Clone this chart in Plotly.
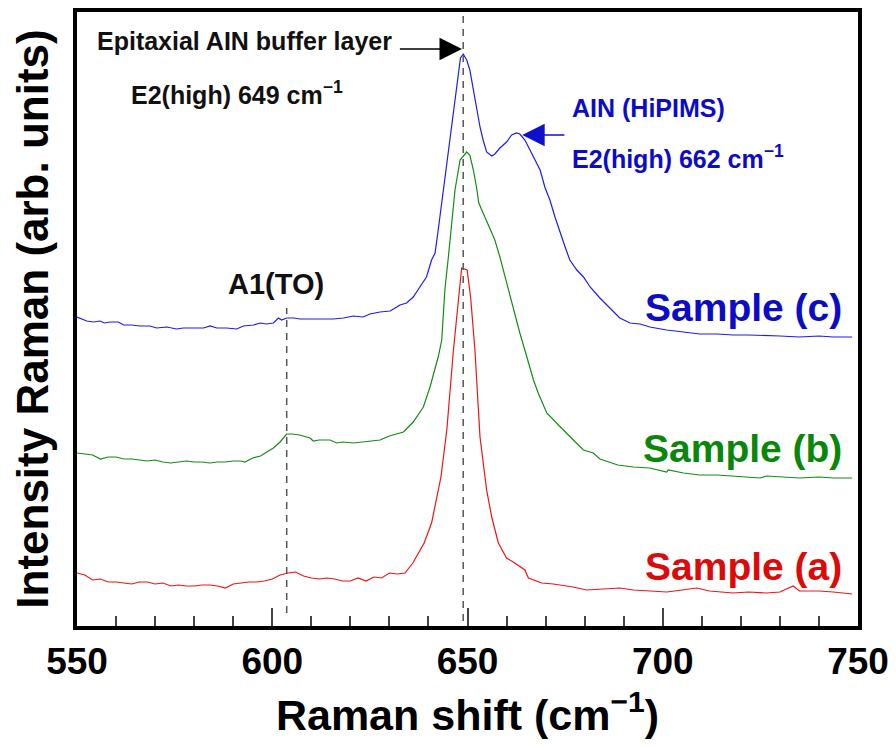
import plotly.graph_objects as go

# ---------------- data (Raman shift in cm^-1, intensity in arb. units) ----------------
shift_a = [550, 552, 554, 556, 558, 560, 562, 564, 566, 568, 570, 572, 574, 576, 578, 580, 582, 584,
           586, 588, 590, 592, 594, 596, 598, 600, 602, 604, 606, 608, 610, 612, 614, 616, 618, 620,
           622, 624, 626, 628, 630, 632, 634, 636, 637.7, 638.9, 640.8, 643.2, 644.7, 646.4, 648.5,
           649.9, 650.8, 651.9, 652.8, 653.2, 654.9, 656.2, 657.9, 660, 661.7, 664.7, 665.6, 669,
           672, 677, 680.5, 684, 689, 692.5, 697, 701, 705, 708.7, 712, 718, 722, 726.6, 730, 733.4,
           735, 740, 743.7, 748.5]
sample_a = [56, 54, 49, 50, 47, 47, 46, 45, 47, 47, 45, 46, 43, 44, 43, 43, 44, 44,
            43, 41, 45, 46, 47, 47, 48, 50, 54, 56, 57, 53, 51, 50, 51, 50, 48, 48,
            51, 48, 52, 51, 56, 55, 56, 66, 77, 86, 106, 152, 199, 279, 361,
            359, 332, 279, 219, 192, 139, 112, 86, 71, 67, 59, 51, 46,
            45, 42, 39, 40, 41, 39, 38, 37, 39, 41, 38, 36, 37, 36, 37, 43,
            38, 38, 37, 35]

shift_b = [550, 552, 554, 556, 558, 560, 562, 564, 566, 568, 570, 572, 574, 576, 578, 580, 582, 584,
           586, 588, 590, 592, 593, 595, 597, 598.6, 600.3, 602, 603.7, 605, 607, 609.7, 610.5, 612,
           614.8, 616.5, 618, 620.8, 623, 625, 627.6, 630, 631, 633.6, 636.1, 638.7, 640.4, 642.5,
           643.4, 644.2, 645.1, 646, 646.8, 648.1, 649.8, 650.6, 651.5, 652.3, 652.9, 654, 655.8,
           657, 658.3, 660, 661.7, 663.4, 665.2, 666.9, 668.1, 670.3, 672.8, 674.5, 677.1, 679.7,
           682.2, 683.9, 688.5, 692.5, 696.7, 701, 701.4, 705.3, 709.5, 714, 718, 722, 724.9, 726.6,
           730, 735, 740, 743.7, 748.5]
sample_b = [176, 175, 174, 170, 172, 172, 170, 170, 169, 168, 169, 167, 166, 167, 168, 167, 167, 166,
            167, 167, 168, 168, 167, 171, 173, 177, 181, 187, 195, 195, 194, 191, 188, 189,
            189, 186, 187, 186, 187, 188, 189, 193, 194, 197, 207, 222, 242, 272,
            289, 339, 372, 406, 439, 469, 477, 474, 459, 442, 426, 416, 399,
            389, 372, 346, 322, 296, 272, 249, 236, 216, 206, 199, 189, 179,
            176, 170, 164, 162, 161, 157, 159, 156, 154, 154, 153, 152, 151, 153,
            152, 151, 152, 151, 151]

shift_c = [550, 552.5, 554.2, 555.9, 557, 558.5, 560.6, 561.9, 564, 566.1, 568.7, 570.4, 573, 575.5,
           577.2, 579.8, 582.4, 584.1, 585.8, 588.3, 590.9, 592.6, 595.2, 596.9, 598.5, 600.3, 601.6,
           602.4, 603.7, 605.5, 607.1, 609.7, 612.2, 615.6, 618.2, 620.8, 623.3, 625, 627.6, 630.2,
           631.9, 632.7, 634.4, 636.1, 637.8, 639.5, 640.8, 641.7, 642.5, 643.4, 644.2, 645.1, 646,
           646.8, 647.7, 648.2, 648.9, 649.8, 650.6, 651.5, 652.3, 653.2, 654, 654.9, 656.2, 657,
           658.3, 660, 661.3, 662.6, 663.4, 664.7, 666, 667.3, 668.6, 669.8, 671.1, 672.4, 673.7,
           675, 676.2, 678, 679.7, 681.4, 683.9, 686.5, 689, 691.6, 694.2, 696.7, 701, 705.3, 709.5,
           714, 718, 722, 726.6, 730, 735, 740, 743.7, 748.5]
sample_c = [312, 308, 307, 308, 306, 307, 307, 304, 304, 303, 303, 301, 302, 300,
            301, 301, 301, 303, 301, 301, 300, 303, 304, 306, 305, 306, 311,
            309, 311, 311, 310, 310, 310, 310, 311, 313, 312, 315, 317, 318,
            322, 324, 326, 332, 342, 352, 369, 376, 399, 426, 452, 479, 506,
            532, 559, 571, 575, 569, 559, 539, 519, 502, 489, 477, 473, 475,
            481, 487, 494, 496, 495, 489, 479, 469, 459, 442, 429, 412, 396,
            382, 369, 359, 352, 342, 331, 321, 311, 306, 305, 302, 299, 297, 295,
            295, 294, 294, 293, 293, 292, 293, 292, 292]

peak_a1_to = 604      # A1(TO)
peak_e2_buffer = 649  # E2(high) epitaxial buffer
peak_e2_hipims = 662  # E2(high) HiPIMS

x_ticks = [550, 600, 650, 700, 750]

FONT = "Arial, 'Liberation Sans', sans-serif"
BLUE_LINE, GREEN_LINE, RED_LINE = "#1c1cf0", "#148c14", "#ee1414"
BLUE_TXT, GREEN_TXT, RED_TXT = "#0c0cc8", "#0a870a", "#dc0a0a"

fig = go.Figure()
fig.add_trace(go.Scatter(x=shift_a, y=sample_a, mode="lines", name="Sample (a)",
                         line=dict(color=RED_LINE, width=1.2)))
fig.add_trace(go.Scatter(x=shift_b, y=sample_b, mode="lines", name="Sample (b)",
                         line=dict(color=GREEN_LINE, width=1.2)))
fig.add_trace(go.Scatter(x=shift_c, y=sample_c, mode="lines", name="Sample (c)",
                         line=dict(color=BLUE_LINE, width=1.2)))

# dashed reference lines
fig.add_shape(type="line", x0=peak_a1_to - 0.3, x1=peak_a1_to - 0.3, y0=16, y1=321,
              xref="x", yref="y", line=dict(color="#555555", width=1.5, dash="7px,6px"))
fig.add_shape(type="line", x0=peak_e2_buffer - 0.1, x1=peak_e2_buffer - 0.1, y0=8, y1=618,
              xref="x", yref="y", line=dict(color="#555555", width=1.5, dash="7px,6px"))

ann = []
def txt(x, y, s, size, color, xanchor="left"):
    ann.append(dict(x=x, y=y, xref="x", yref="y", text=s, showarrow=False,
                    xanchor=xanchor, yanchor="middle",
                    font=dict(family=FONT, size=size, color=color, weight="bold")))

txt(554.7, 588, "Epitaxial AIN buffer layer", 25, "#111111")
txt(563.2, 536, "E2(high) 649 cm<sup>−1</sup>", 25, "#111111")
txt(676.2, 521, "AIN (HiPIMS)", 25, BLUE_TXT)
txt(676.2, 472, "E2(high) 662 cm<sup>−1</sup>", 25, BLUE_TXT)
txt(601, 345, "A1(TO)", 29, "#111111", xanchor="center")
txt(746.5, 322, "Sample (c)", 39, BLUE_TXT, xanchor="right")
txt(746.5, 181, "Sample (b)", 39, GREEN_TXT, xanchor="right")
txt(746.5, 63, "Sample (a)", 39, RED_TXT, xanchor="right")

# arrows (line + head) pointing at the two E2(high) peaks
ann.append(dict(x=648.6, y=580, ax=632.3, ay=580, xref="x", yref="y", axref="x", ayref="y",
                text="", showarrow=True, arrowhead=2, arrowsize=3.0, arrowwidth=1.5,
                arrowcolor="#000000"))
ann.append(dict(x=664.0, y=494, ax=675.2, ay=494, xref="x", yref="y", axref="x", ayref="y",
                text="", showarrow=True, arrowhead=2, arrowsize=3.0, arrowwidth=1.5,
                arrowcolor="#1010cc"))

# the page body has an 8px default margin: figure is sized/placed to compensate
fig.update_layout(
    width=884, height=731,
    margin=dict(l=69, r=34, t=4, b=113, autoexpand=False),
    paper_bgcolor="white", plot_bgcolor="white",
    showlegend=False,
    annotations=ann,
    font=dict(family=FONT, color="black"),
)

fig.update_xaxes(
    range=[550, 750], tickvals=x_ticks, ticktext=[str(v) for v in x_ticks],
    ticks="inside", ticklen=18, tickwidth=1.5, tickcolor="#444444",
    minor=dict(dtick=10, ticks="inside", ticklen=10, tickwidth=1.5, tickcolor="#444444"),
    showline=True, linewidth=4, linecolor="black", mirror=True,
    showgrid=False, zeroline=False, automargin=False, ticklabeloverflow="allow",
    tickfont=dict(family=FONT, size=37, color="black", weight="bold"),
    title=dict(text="Raman shift (cm<sup>−1</sup>)", standoff=20,
               font=dict(family=FONT, size=43, color="black", weight="bold")),
)
fig.update_yaxes(
    range=[3, 617], showticklabels=False, ticks="",
    showline=True, linewidth=4, linecolor="black", mirror=True,
    showgrid=False, zeroline=False, automargin=False,
    title=dict(text="Intensity Raman (arb. units)", standoff=21,
               font=dict(family=FONT, size=44, color="black", weight="bold")),
)

fig.write_html("out.html")
